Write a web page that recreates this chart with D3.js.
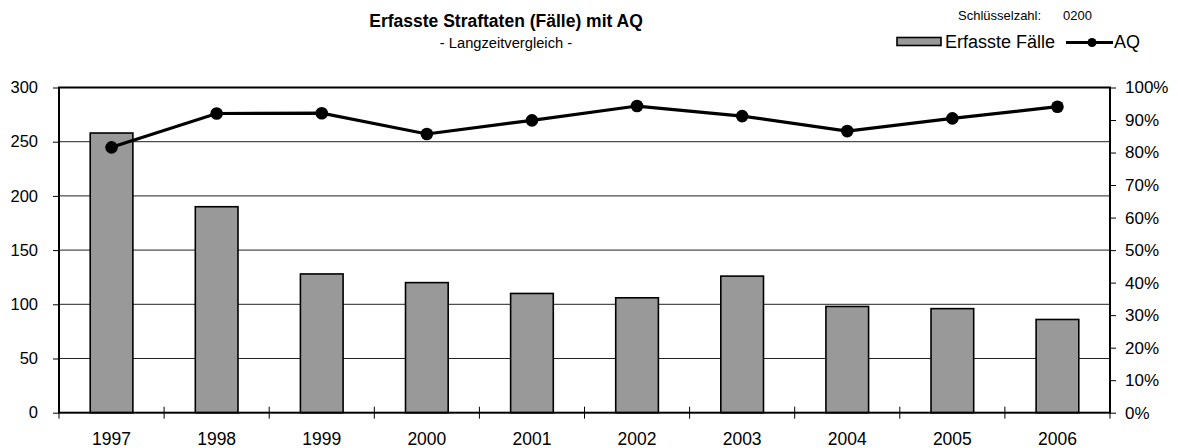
<!DOCTYPE html>
<html>
<head>
<meta charset="utf-8">
<script src="https://cdn.jsdelivr.net/npm/d3@7"></script>
<style>
  body { margin: 0; background: #fff; }
  svg text { font-family: "Liberation Sans", Arial, sans-serif; fill: #000; }
</style>
</head>
<body>
<svg id="chart" width="1178" height="448"></svg>
<script>
var years = ["1997", "1998", "1999", "2000", "2001", "2002", "2003", "2004", "2005", "2006"]
var faelle = [258, 190, 128, 120, 110, 106, 126, 98, 96, 86]
var aq = [81.6, 92.0, 92.1, 85.7, 89.9, 94.3, 91.2, 86.6, 90.5, 94.1]
var leftTicks = [0, 50, 100, 150, 200, 250, 300]
var rightTicks = [0, 10, 20, 30, 40, 50, 60, 70, 80, 90, 100]

var svg = d3.select("#chart")

var plotLeft = 59, plotRight = 1110, plotTop = 87.5, plotBottom = 412.7

var x = d3.scaleBand().domain(years).range([plotLeft, plotRight]).padding(0)
var y = d3.scaleLinear().domain([0, 300]).range([plotBottom, plotTop])
var y2 = d3.scaleLinear().domain([0, 100]).range([plotBottom, plotTop])

// gridlines
svg.selectAll(".grid")
    .data(leftTicks.filter(function(d){ return d > 0 && d < 300 }))
    .enter().append("line")
        .attr("x1", plotLeft).attr("x2", plotRight)
        .attr("y1", function(d){ return y(d) })
        .attr("y2", function(d){ return y(d) })
        .style("stroke", "#222")
        .style("stroke-width", 1)

// bars
var barW = x.bandwidth() * 0.406
svg.selectAll(".bar")
    .data(faelle).enter()
    .append("rect")
        .attr("x", function(d,i){ return x(years[i]) + x.bandwidth()/2 - barW/2 })
        .attr("y", function(d){ return y(d) })
        .attr("width", barW)
        .attr("height", function(d){ return plotBottom - y(d) })
        .style("fill", "#999999")
        .style("stroke", "#000")
        .style("stroke-width", 1.6)

// plot frame
svg.append("rect")
    .attr("x", plotLeft).attr("y", plotTop)
    .attr("width", plotRight - plotLeft).attr("height", plotBottom - plotTop)
    .style("fill", "none")
    .style("stroke", "#000")
    .style("stroke-width", 2)

// left axis
var yAxis = svg.append("g")
    .attr("transform", "translate(" + plotLeft + ",0)")
    .call(d3.axisLeft(y).tickValues(leftTicks).tickSize(6).tickPadding(15))
yAxis.select(".domain").remove()
yAxis.selectAll("line").style("stroke", "#000")
yAxis.selectAll("text").style("font-size", "16.5px")

// right axis
var y2Axis = svg.append("g")
    .attr("transform", "translate(" + plotRight + ",0)")
    .call(d3.axisRight(y2).tickValues(rightTicks).tickSize(6).tickPadding(9)
        .tickFormat(function(d){ return d + "%" }))
y2Axis.select(".domain").remove()
y2Axis.selectAll("line").style("stroke", "#000")
y2Axis.selectAll("text").style("font-size", "17px")

// bottom axis: crossing tick marks at band edges
var edges = years.map(function(d){ return x(d) }).concat([plotRight])
svg.selectAll(".xtick")
    .data(edges).enter()
    .append("line")
        .attr("x1", function(d){ return d }).attr("x2", function(d){ return d })
        .attr("y1", plotBottom - 6).attr("y2", plotBottom + 6)
        .style("stroke", "#000")
        .style("stroke-width", 1)

svg.selectAll(".xlabel")
    .data(years).enter()
    .append("text")
        .attr("x", function(d){ return x(d) + x.bandwidth()/2 })
        .attr("y", 444.5)
        .attr("text-anchor", "middle")
        .style("font-size", "17.5px")
        .text(function(d){ return d })

// AQ line
var line = d3.line()
    .x(function(d,i){ return x(years[i]) + x.bandwidth()/2 })
    .y(function(d){ return y2(d) })

svg.append("path")
    .datum(aq)
    .attr("d", line)
    .style("fill", "none")
    .style("stroke", "#000")
    .style("stroke-width", 3.2)

svg.selectAll(".dot")
    .data(aq).enter()
    .append("circle")
        .attr("cx", function(d,i){ return x(years[i]) + x.bandwidth()/2 })
        .attr("cy", function(d){ return y2(d) })
        .attr("r", 6.3)
        .style("fill", "#000")

// titles
svg.append("text")
    .attr("x", 506).attr("y", 27)
    .attr("text-anchor", "middle")
    .style("font-size", "17.5px")
    .style("font-weight", "bold")
    .text("Erfasste Straftaten (Fälle) mit AQ")

svg.append("text")
    .attr("x", 506).attr("y", 48)
    .attr("text-anchor", "middle")
    .style("font-size", "14.7px")
    .text("- Langzeitvergleich -")

svg.append("text")
    .attr("x", 958).attr("y", 20)
    .style("font-size", "13px")
    .text("Schlüsselzahl:")

svg.append("text")
    .attr("x", 1063).attr("y", 20)
    .style("font-size", "13px")
    .text("0200")

// legend
svg.append("rect")
    .attr("x", 897).attr("y", 37.5)
    .attr("width", 44).attr("height", 8)
    .style("fill", "#999999")
    .style("stroke", "#000")
    .style("stroke-width", 1.6)

svg.append("text")
    .attr("x", 945).attr("y", 48)
    .style("font-size", "18px")
    .text("Erfasste Fälle")

svg.append("line")
    .attr("x1", 1066).attr("x2", 1113)
    .attr("y1", 42.5).attr("y2", 42.5)
    .style("stroke", "#000")
    .style("stroke-width", 3.2)

svg.append("circle")
    .attr("cx", 1092).attr("cy", 42.5)
    .attr("r", 4.5)
    .style("fill", "#000")

svg.append("text")
    .attr("x", 1114).attr("y", 48)
    .style("font-size", "18px")
    .text("AQ")
</script>
</body>
</html>
